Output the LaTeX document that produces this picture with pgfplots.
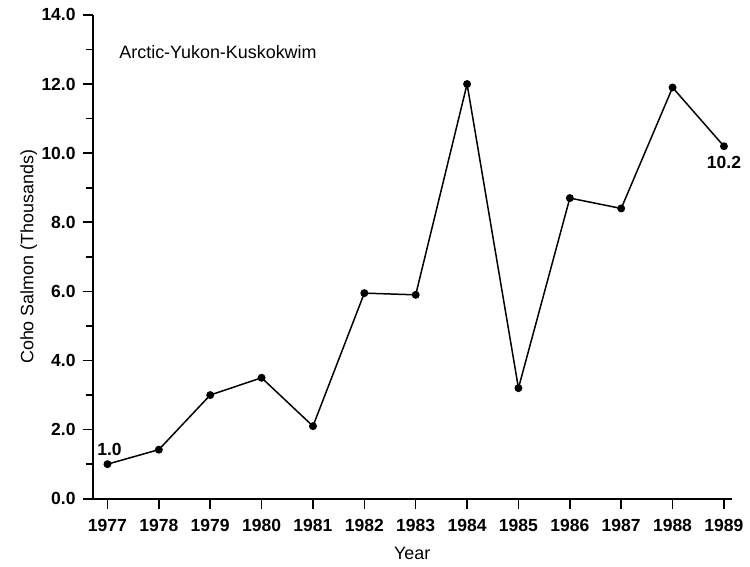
\documentclass[border=0pt]{standalone}
\usepackage{fontspec}
\setmainfont{Liberation Sans}
\usepackage{pgfplots}
\pgfplotsset{compat=1.18}

\pgfplotstableread{
year coho
1977 1.0
1978 1.42
1979 3.0
1980 3.5
1981 2.1
1982 5.95
1983 5.9
1984 12.0
1985 3.2
1986 8.7
1987 8.4
1988 11.9
1989 10.2
}\cohodata

\begin{document}
\begin{tikzpicture}
\begin{axis}[
    scale only axis,
    width=321pt, height=243pt,
    xmin=1976.71, xmax=1989.15,
    ymin=0, ymax=14,
    axis x line*=bottom, axis y line*=left,
    axis line style={-, line width=1pt},
    xtick={1977,...,1989},
    ytick={0,2,...,14},
    minor ytick={1,3,...,13},
    tick align=outside,
    major tick length=5pt, minor tick length=3.5pt,
    tick style={black, line width=0.8pt},
    /pgf/number format/assume math mode=true,
    xticklabel style={/pgf/number format/1000 sep={}, font=\fontsize{8.8}{10}\selectfont\bfseries, yshift=-2pt},
    yticklabel style={/pgf/number format/fixed, /pgf/number format/fixed zerofill, /pgf/number format/precision=1, font=\fontsize{8.8}{10}\selectfont\bfseries},
    xlabel={Year}, ylabel={Coho Salmon (Thousands)},
    xlabel style={at={(axis description cs:0.5,-0.1132)}, anchor=center, font=\fontsize{9}{11}\selectfont},
    ylabel style={at={(axis description cs:-0.0997,0.5)}, anchor=center, font=\fontsize{9}{11}\selectfont},
    clip=false,
]
\addplot[black, line width=0.75pt, mark=*, mark size=1.6pt] table[x=year, y=coho] {\cohodata};
\node[anchor=west, font=\fontsize{9}{11}\selectfont] at (rel axis cs:0.031,0.924) {Arctic-Yukon-Kuskokwim};
\node[font=\fontsize{8.8}{10}\selectfont\bfseries] at (axis cs:1977.04,1.42) {1.0};
\node[font=\fontsize{8.8}{10}\selectfont\bfseries] at (axis cs:1989,9.74) {10.2};
\end{axis}
\path (current axis.south west) ++(-46.5pt,-32pt) rectangle ([xshift=7.5pt,yshift=7.5pt]current axis.north east);
\end{tikzpicture}
\end{document}
